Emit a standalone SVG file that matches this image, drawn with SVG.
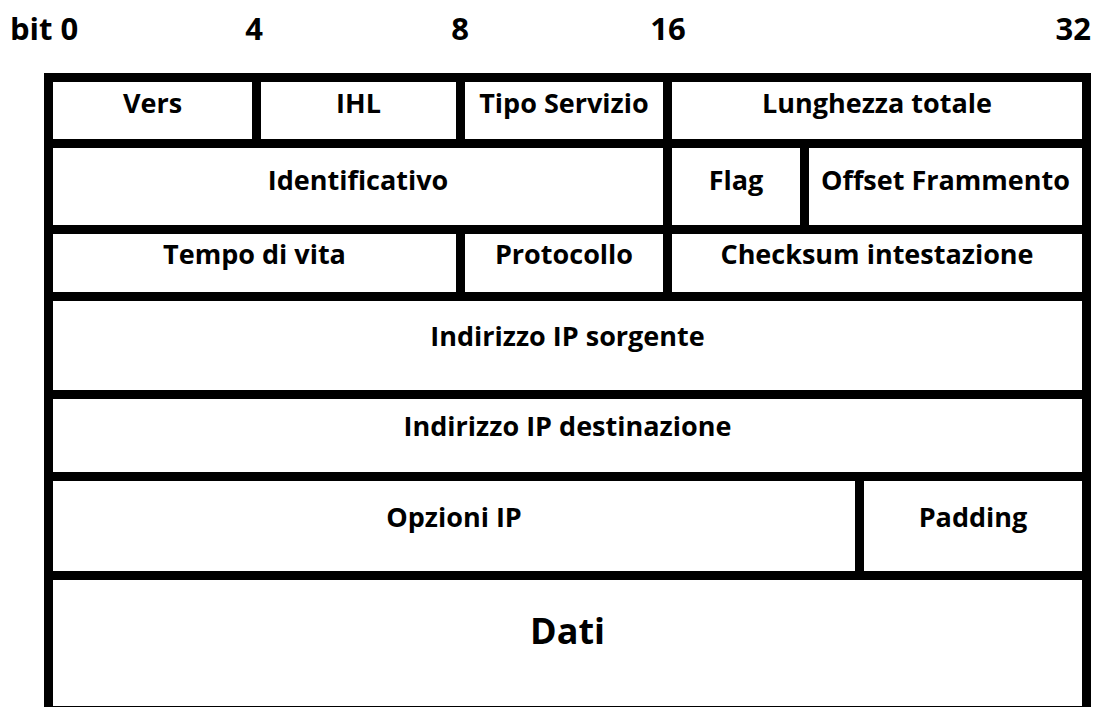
<svg xmlns="http://www.w3.org/2000/svg" width="1099" height="707" viewBox="0 0 1099 707">
  <style>
    .ln { fill: #000; }
    .t { font-family: "Open Sans", "Liberation Sans", sans-serif; font-weight: bold; font-size: 27px; text-anchor: middle; fill: #000; }
    .h { font-family: "Open Sans", "Liberation Sans", sans-serif; font-weight: bold; font-size: 31px; fill: #000; }
    .big { font-size: 36px; }
  </style>
  <rect x="0" y="0" width="1099" height="707" fill="#fff"/>

  <g id="header">
    <text class="h" x="10" y="40">bit 0</text>
    <text class="h" x="254" y="40" text-anchor="middle">4</text>
    <text class="h" x="460" y="40" text-anchor="middle">8</text>
    <text class="h" x="668" y="40" text-anchor="middle">16</text>
    <text class="h" x="1091" y="40" text-anchor="end">32</text>
  </g>

  <g id="grid">
    <!-- outer border -->
    <rect class="ln" x="44" y="73" width="1047" height="9"/>
    <rect class="ln" x="44" y="73" width="9" height="634"/>
    <rect class="ln" x="1082" y="73" width="9" height="634"/>
    <rect class="ln" x="44" y="706" width="1047" height="1"/>
    <!-- row separators -->
    <rect class="ln" x="44" y="139" width="1047" height="9"/>
    <rect class="ln" x="44" y="225" width="1047" height="9"/>
    <rect class="ln" x="44" y="292" width="1047" height="9"/>
    <rect class="ln" x="44" y="390" width="1047" height="9"/>
    <rect class="ln" x="44" y="472" width="1047" height="9"/>
    <rect class="ln" x="44" y="571" width="1047" height="9"/>
    <!-- column separators -->
    <rect class="ln" x="252" y="73" width="9" height="75"/>
    <rect class="ln" x="456" y="73" width="9" height="75"/>
    <rect class="ln" x="663" y="73" width="9" height="228"/>
    <rect class="ln" x="800" y="139" width="9" height="95"/>
    <rect class="ln" x="456" y="225" width="9" height="76"/>
    <rect class="ln" x="855" y="472" width="9" height="108"/>
  </g>

  <g id="vers"><text class="t" x="152.5" y="113">Vers</text></g>
  <g id="ihl"><text class="t" x="358.5" y="113">IHL</text></g>
  <g id="tipo-servizio"><text class="t" x="564" y="113">Tipo Servizio</text></g>
  <g id="lunghezza-totale"><text class="t" x="877" y="113">Lunghezza totale</text></g>

  <g id="identificativo"><text class="t" x="358" y="190">Identificativo</text></g>
  <g id="flag"><text class="t" x="736" y="190">Flag</text></g>
  <g id="offset-frammento"><text class="t" x="945.5" y="190">Offset Frammento</text></g>

  <g id="tempo-di-vita"><text class="t" x="254.5" y="264">Tempo di vita</text></g>
  <g id="protocollo"><text class="t" x="564" y="264">Protocollo</text></g>
  <g id="checksum"><text class="t" x="877" y="264">Checksum intestazione</text></g>

  <g id="ip-sorgente"><text class="t" x="567.5" y="346">Indirizzo IP sorgente</text></g>
  <g id="ip-destinazione"><text class="t" x="567.5" y="436">Indirizzo IP destinazione</text></g>

  <g id="opzioni-ip"><text class="t" x="454" y="527">Opzioni IP</text></g>
  <g id="padding"><text class="t" x="973" y="527">Padding</text></g>

  <g id="dati"><text class="t big" x="567.5" y="644">Dati</text></g>
</svg>
